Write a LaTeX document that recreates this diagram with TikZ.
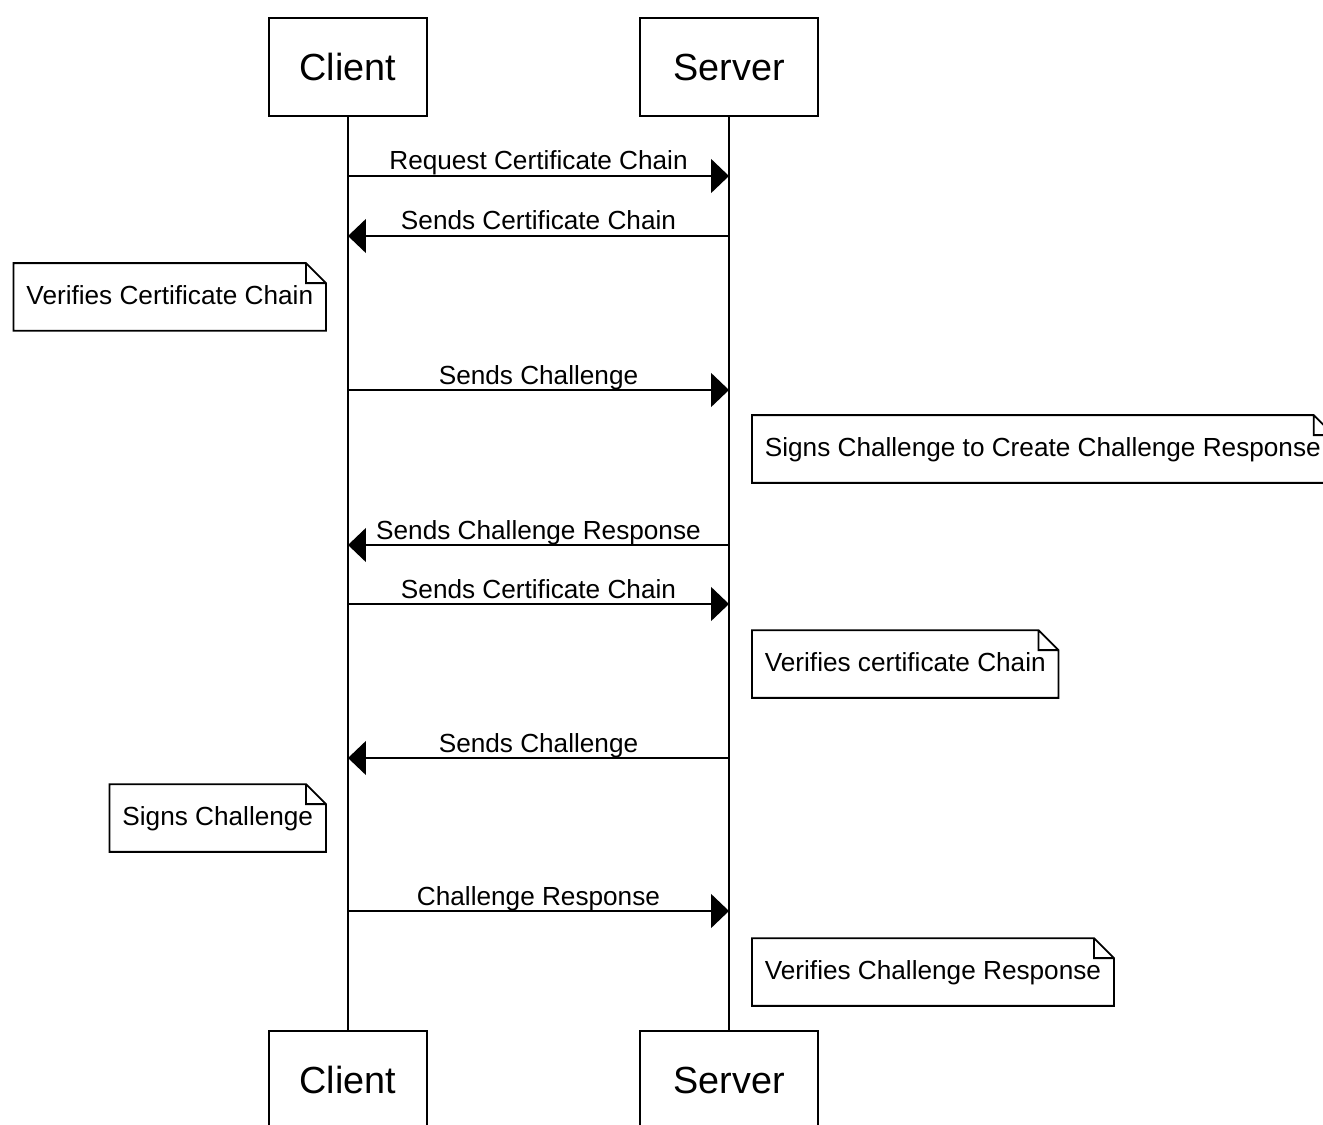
\documentclass[tikz,border=0pt]{standalone}
\usepackage{fontspec}
\setmainfont{Liberation Sans}
\usetikzlibrary{arrows.meta}

\begin{document}
\begin{tikzpicture}[x=0.02cm, y=-0.02cm, line width=1pt,
		actor/.style={draw, rectangle, minimum height=1.96cm, font=\fontsize{21.5}{24}\selectfont},
		note/.style={rectangle, inner xsep=0.24cm, minimum height=1.32cm, text height=1.1em, text depth=0.2em, font=\fontsize{14.9}{17}\selectfont},
		msg/.style={line width=0.9pt, -{Triangle[length=0.36cm, width=0.68cm]}},
		lbl/.style={anchor=base, yshift=0.12cm, inner sep=0pt, font=\fontsize{14.9}{17}\selectfont}]
			\path[use as bounding box] (0,0) rectangle (1323,1125);
			\clip (0,0) rectangle (1323,1125);

			\node[actor, minimum width=3.16cm] (c1) at (348,67) {Client};
			\node[actor, minimum width=3.56cm] (s1) at (729,67) {Server};
			\node[actor, minimum width=3.16cm] (c2) at (348,1080) {Client};
			\node[actor, minimum width=3.56cm] (s2) at (729,1080) {Server};

			\draw (c1) -- (c2);
			\draw (s1) -- (s2);

			\foreach \y/\from/\to/\txt in {176/c1/s1/Request Certificate Chain,
					236/s1/c1/Sends Certificate Chain,
					390/c1/s1/Sends Challenge,
					545/s1/c1/Sends Challenge Response,
					604/c1/s1/Sends Certificate Chain,
					758/s1/c1/Sends Challenge,
					911/c1/s1/Challenge Response}
				\draw[msg] (\from |- 0,\y) -- (\to |- 0,\y) node[lbl, midway] {\txt};

			\node[note, anchor=east] (n1) at (326,297) {Verifies Certificate Chain};
			\node[note, anchor=west] (n2) at (752,449) {Signs Challenge to Create Challenge Response};
			\node[note, anchor=west] (n3) at (752,664) {Verifies certificate Chain};
			\node[note, anchor=east] (n4) at (326,818) {Signs Challenge};
			\node[note, anchor=west] (n5) at (752,972) {Verifies Challenge Response};

			\foreach \n in {n1,n2,n3,n4,n5}
				\draw (\n.north west) -- ([xshift=-0.4cm]\n.north east) -- ([yshift=-0.4cm]\n.north east)
					-- (\n.south east) -- (\n.south west) -- cycle
					([xshift=-0.4cm]\n.north east) |- ([yshift=-0.4cm]\n.north east);
		\end{tikzpicture}
\end{document}
